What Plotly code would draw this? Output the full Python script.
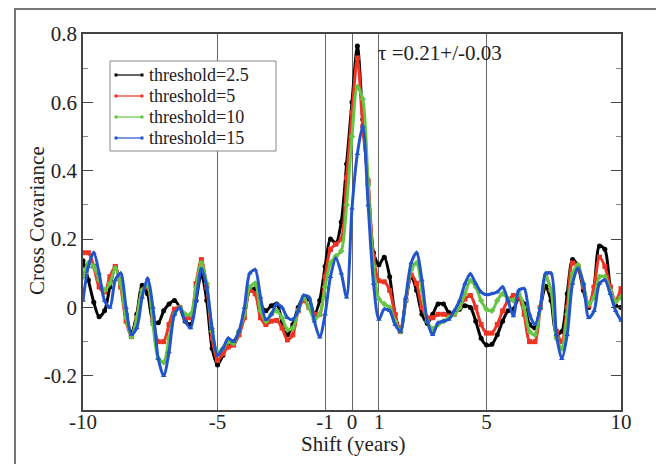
import plotly.graph_objects as go

# Shift grid (years), step 0.2
shift = [round(-10 + 0.2 * i, 1) for i in range(101)]

thr_2_5 = [0.137, 0.08, 0.015, -0.027, -0.01, 0.06, 0.118, 0.07, -0.02, -0.075,
           -0.02, 0.065, 0.04, -0.04, -0.045, -0.01, 0.01, 0.02, 0.0, -0.04,
           -0.05, 0.02, 0.099, 0.02, -0.12, -0.168, -0.14, -0.105, -0.1, -0.07,
           -0.02, 0.05, 0.055, 0.01, -0.01, 0.005, 0.01, -0.04, -0.08, -0.05,
           0.0, 0.03, 0.025, -0.02, 0.02, 0.12, 0.2, 0.188, 0.25, 0.42,
           0.6, 0.765, 0.55, 0.36, 0.16, 0.125, 0.147, 0.09, -0.02, -0.07,
           0.02, 0.089, 0.05, -0.02, -0.047, -0.02, 0.01, 0.01, -0.015, -0.017,
           -0.005, 0.005, 0.0, -0.04, -0.09, -0.11, -0.108, -0.08, -0.04, -0.01,
           -0.005, 0.028, 0.01, -0.05, -0.06, 0.0, 0.062, 0.02, -0.08, -0.07,
           0.04, 0.14, 0.12, 0.05, 0.0, 0.06, 0.18, 0.17, 0.06, 0.006,
           0.0]

thr_5 = [0.16, 0.16, 0.12, 0.06, 0.045, 0.09, 0.12, 0.06, -0.04, -0.085,
         -0.03, 0.05, 0.06, -0.03, -0.1, -0.1, -0.05, -0.005, 0.0, -0.03,
         -0.03, 0.07, 0.14, 0.06, -0.09, -0.155, -0.135, -0.116, -0.11, -0.08,
         -0.03, 0.05, 0.04, -0.03, -0.05, -0.04, -0.038, -0.06, -0.095, -0.08,
         -0.01, 0.02, 0.0, -0.02, -0.02, 0.09, 0.17, 0.185, 0.2, 0.38,
         0.57, 0.73, 0.53, 0.37, 0.15, 0.078, 0.075, 0.05, -0.02, -0.07,
         0.02, 0.095, 0.07, 0.0, -0.03, -0.03, -0.02, -0.02, -0.025, -0.02,
         0.0, 0.025, 0.035, 0.0, -0.05, -0.075, -0.075, -0.05, -0.01, 0.02,
         0.035, 0.03, -0.02, -0.1, -0.1, 0.0, 0.09, 0.05, -0.07, -0.1,
         0.0, 0.13, 0.12, 0.06, 0.005, 0.06, 0.147, 0.12, 0.06, 0.02,
         0.055]

thr_10 = [0.09, 0.13, 0.12, 0.08, 0.05, 0.07, 0.115, 0.07, -0.03, -0.085,
          -0.03, 0.05, 0.065, -0.05, -0.15, -0.16, -0.09, -0.02, 0.0, -0.02,
          -0.02, 0.06, 0.13, 0.07, -0.07, -0.13, -0.12, -0.1, -0.105, -0.07,
          -0.02, 0.06, 0.07, -0.01, -0.04, -0.02, -0.01, -0.03, -0.065, -0.06,
          -0.01, 0.03, 0.0, -0.035, -0.02, 0.06, 0.13, 0.15, 0.165, 0.3,
          0.5, 0.645, 0.61, 0.36, 0.12, 0.025, 0.01, 0.0, -0.04, -0.07,
          0.02, 0.11, 0.13, 0.05, -0.04, -0.062, -0.05, -0.04, -0.03, -0.02,
          0.0, 0.04, 0.078, 0.06, 0.02, -0.005, -0.01, 0.02, 0.04, 0.025,
          0.02, 0.04, 0.0, -0.07, -0.08, 0.0, 0.09, 0.05, -0.09, -0.12,
          -0.02, 0.1, 0.125, 0.07, 0.01, 0.03, 0.09, 0.09, 0.05, 0.017,
          0.03]

thr_15 = [0.02, 0.12, 0.16, 0.1, 0.02, 0.0, 0.08, 0.1, 0.0, -0.08,
          -0.06, 0.03, 0.085, 0.0, -0.15, -0.2, -0.13, -0.02, 0.0, -0.04,
          -0.06, 0.02, 0.113, 0.06, -0.06, -0.14, -0.12, -0.09, -0.1, -0.07,
          0.0, 0.1, 0.11, 0.03, -0.035, -0.02, 0.01, 0.0, -0.03, -0.035,
          -0.01, 0.035, 0.03, -0.04, -0.087, -0.02, 0.09, 0.143, 0.1, 0.03,
          0.29, 0.45, 0.53, 0.3, 0.07, -0.035, -0.005, -0.01, -0.05, -0.07,
          0.03, 0.13, 0.16, 0.08, -0.04, -0.08, -0.045, -0.04, -0.035, -0.01,
          0.02, 0.07, 0.098, 0.07, 0.045, 0.037, 0.04, 0.045, 0.06, 0.02,
          -0.025, 0.05, 0.055, -0.02, -0.05, 0.0, 0.1, 0.1, -0.08, -0.15,
          -0.08, 0.07, 0.115, 0.07, -0.03, -0.01, 0.07, 0.08, 0.04, -0.01,
          -0.038]

series_names = ["threshold=2.5", "threshold=5", "threshold=10", "threshold=15"]
series_values = [thr_2_5, thr_5, thr_10, thr_15]
colors = ["#000000", "#ee3322", "#66c544", "#2255cc"]
symbols = ["circle", "square", "diamond", "triangle-up"]

x_tickvals = [-10, -5, -1, 0, 1, 5, 10]
x_ticktext = ["-10", "-5", "-1", "0", "1", "5", "10"]
y_tickvals = [-0.2, 0, 0.2, 0.4, 0.6, 0.8]
y_ticktext = ["-0.2", "0", "0.2", "0.4", "0.6", "0.8"]

FONT = "Liberation Serif"
TXT = "#222"

# page body has an 8px margin: figure is placed at (8, 8)
W, H = 656, 456
ML, MR, MT, MB = 75, 43, 26, 54
PX0, PY0 = 8 + ML, 8 + MT            # plot area top-left in window pixels
PW, PH = W - ML - MR, H - MT - MB


def px(x):
    return (x - PX0) / PW


def py(y):
    return (PY0 + PH - y) / PH


fig = go.Figure()
for name, vals, col, sym in zip(series_names, series_values, colors, symbols):
    fig.add_trace(go.Scatter(
        x=shift, y=vals, name=name, mode="lines+markers", showlegend=False,
        line=dict(color=col, width=3, shape="spline", smoothing=0.8),
        marker=dict(color=col, size=5, symbol=sym),
    ))

fig.update_layout(
    width=W, height=H,
    margin=dict(l=ML, r=MR, t=MT, b=MB),
    paper_bgcolor="white", plot_bgcolor="white",
    font=dict(family=FONT, size=21, color=TXT),
    showlegend=False,
    xaxis=dict(range=[-10, 10], tickmode="array", tickvals=x_tickvals,
               ticktext=x_ticktext, showgrid=True, gridcolor="#666",
               gridwidth=1, zeroline=False, ticks="", showline=True,
               linecolor="#444", linewidth=1.5, mirror=True,
               ticklabelstandoff=-8,
               tickfont=dict(family=FONT, size=21, color=TXT)),
    yaxis=dict(range=[-0.3, 0.8], tickmode="array", tickvals=y_tickvals,
               ticktext=y_ticktext, showgrid=False, zeroline=False,
               ticks="inside", ticklen=10, tickcolor="#444", showline=True,
               linecolor="#444", linewidth=1.5, mirror="ticks",
               minor=dict(tickmode="linear", tick0=0, dtick=0.1,
                          ticks="inside", ticklen=5, tickcolor="#888"),
               tickfont=dict(family=FONT, size=21, color=TXT)),
)

# Outer frame
fig.add_shape(type="rect", xref="paper", yref="paper",
              x0=px(15), x1=px(657), y0=py(475), y1=py(9),
              line=dict(color="#777", width=2), layer="below")

# Axis titles
fig.add_annotation(text="Cross Covariance", xref="paper", yref="paper",
                   x=px(37), y=py(221), textangle=-90, showarrow=False,
                   xanchor="center", yanchor="middle",
                   font=dict(family=FONT, size=21, color=TXT))
fig.add_annotation(text="Shift (years)", xref="paper", yref="paper",
                   x=px(353), y=py(444), showarrow=False,
                   xanchor="center", yanchor="middle",
                   font=dict(family=FONT, size=21, color=TXT))

# Tau label
fig.add_annotation(text="τ =0.21+/-0.03", xref="paper", yref="paper",
                   x=px(376), y=py(53), xanchor="left", yanchor="middle",
                   showarrow=False, font=dict(family=FONT, size=21, color=TXT))

# Legend (drawn as a box with samples and labels)
fig.add_shape(type="rect", xref="paper", yref="paper",
              x0=px(110), x1=px(276), y0=py(151), y1=py(61),
              line=dict(color="#888", width=1), fillcolor="white", layer="above")
for i, (name, col) in enumerate(zip(series_names, colors)):
    yc = 75 + 21 * i
    fig.add_shape(type="line", xref="paper", yref="paper",
                  x0=px(116), x1=px(142), y0=py(yc), y1=py(yc),
                  line=dict(color=col, width=1.2), layer="above")
    for xm in (116, 142):
        fig.add_shape(type="rect", xref="paper", yref="paper",
                      x0=px(xm - 1.5), x1=px(xm + 1.5),
                      y0=py(yc + 1.5), y1=py(yc - 1.5),
                      line=dict(color=col, width=0), fillcolor=col,
                      layer="above")
    fig.add_annotation(text=name, xref="paper", yref="paper",
                       x=px(147), y=py(yc), xanchor="left", yanchor="middle",
                       showarrow=False,
                       font=dict(family=FONT, size=18, color=TXT))

fig.write_html("out.html")
